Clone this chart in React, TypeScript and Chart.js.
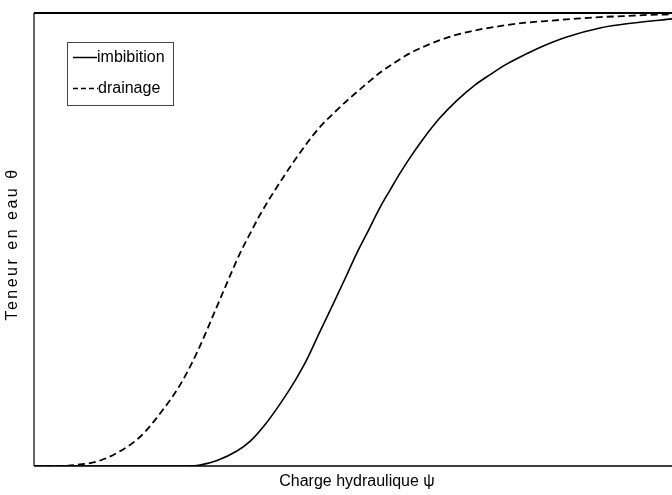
import React, { useEffect, useRef } from "react";
import { Chart, registerables } from "chart.js";

Chart.register(...registerables);

// Data (x: relative hydraulic head 0..100, y: relative water content 0..1)
const imbibitionX = [0, 23.7, 26.0, 28.7, 31.8, 33.9, 36.2, 39.0, 40.9, 42.8, 44.8, 46.9, 48.8, 50.6, 52.2, 54.2, 55.8, 57.4, 59.1, 61.0, 63.6, 66.3, 69.1, 71.5, 73.8, 76.2, 79.3, 83.5, 88.7, 93.9, 100];
const imbibitionY = [0, 0, 0.002, 0.012, 0.033, 0.055, 0.091, 0.146, 0.188, 0.236, 0.296, 0.358, 0.415, 0.470, 0.514, 0.570, 0.609, 0.647, 0.684, 0.722, 0.768, 0.807, 0.841, 0.864, 0.885, 0.903, 0.924, 0.947, 0.967, 0.978, 0.987];
const drainageX = [0, 4.1, 6.4, 9.9, 13.0, 16.6, 20.2, 22.9, 25.6, 28.7, 30.7, 32.3, 33.9, 35.4, 39.0, 42.8, 44.8, 47.2, 49.5, 51.9, 54.2, 56.6, 58.9, 61.3, 63.6, 66.0, 68.3, 70.4, 73.0, 76.7, 80.9, 84.5, 88.7, 92.3, 96.6, 100];
const drainageY = [0, 0, 0.002, 0.010, 0.029, 0.064, 0.124, 0.179, 0.252, 0.353, 0.419, 0.470, 0.514, 0.554, 0.636, 0.713, 0.748, 0.782, 0.812, 0.841, 0.868, 0.891, 0.911, 0.927, 0.940, 0.951, 0.959, 0.965, 0.971, 0.978, 0.983, 0.987, 0.991, 0.993, 0.996, 0.997];
const seriesLabels = ["imbibition", "drainage"];
const xTitle = "Charge hydraulique \u03c8";
const yTitle = "Teneur en eau \u03b8";

const FONT = '16px "Liberation Sans", Arial, sans-serif';

const decorPlugin = {
  id: "decor",
  afterDraw(chart: any) {
    const ctx = chart.ctx as CanvasRenderingContext2D;
    const a = chart.chartArea;
    ctx.save();
    // frame
    ctx.strokeStyle = "#000";
    ctx.lineWidth = 1.8;
    ctx.beginPath();
    ctx.moveTo(a.left, a.top);
    ctx.lineTo(a.right + 2, a.top);
    ctx.stroke();
    ctx.lineWidth = 1.2;
    ctx.beginPath();
    ctx.moveTo(a.left, a.top);
    ctx.lineTo(a.left, a.bottom);
    ctx.stroke();
    ctx.lineWidth = 1.5;
    ctx.beginPath();
    ctx.moveTo(a.left, a.bottom);
    ctx.lineTo(a.right + 2, a.bottom);
    ctx.stroke();

    // legend box
    ctx.strokeStyle = "#444";
    ctx.lineWidth = 1;
    ctx.strokeRect(67.5, 42.5, 106, 63);
    ctx.strokeStyle = "#000";
    ctx.lineWidth = 1.5;
    ctx.beginPath();
    ctx.moveTo(73, 57.5);
    ctx.lineTo(97, 57.5);
    ctx.stroke();
    ctx.setLineDash([5, 3]);
    ctx.beginPath();
    ctx.moveTo(73, 88.5);
    ctx.lineTo(98, 88.5);
    ctx.stroke();
    ctx.setLineDash([]);
    ctx.fillStyle = "#000";
    ctx.font = FONT;
    ctx.textAlign = "left";
    ctx.textBaseline = "middle";
    ctx.fillText(seriesLabels[0], 97, 58);
    ctx.fillText(seriesLabels[1], 98, 89);

    // axis titles
    ctx.textAlign = "center";
    ctx.fillText(xTitle, 357, 482);
    ctx.translate(13, 244);
    ctx.rotate(-Math.PI / 2);
    (ctx as any).letterSpacing = "2.5px";
    ctx.fillText(yTitle, 0, 0);
    ctx.restore();
  },
};

export default function App() {
  const ref = useRef<HTMLCanvasElement | null>(null);
  useEffect(() => {
    if (!ref.current) return;
    const chart = new Chart(ref.current, {
      type: "line",
      data: {
        datasets: [
          {
            label: seriesLabels[0],
            data: imbibitionX.map((x, i) => ({ x, y: imbibitionY[i] })),
            borderColor: "#000",
            borderWidth: 1.6,
            pointRadius: 0,
            cubicInterpolationMode: "monotone",
            fill: false,
          },
          {
            label: seriesLabels[1],
            data: drainageX.map((x, i) => ({ x, y: drainageY[i] })),
            borderColor: "#000",
            borderWidth: 1.8,
            borderDash: [7, 4],
            pointRadius: 0,
            cubicInterpolationMode: "monotone",
            fill: false,
          },
        ],
      },
      options: {
        animation: false,
        responsive: false,
        layout: { padding: { left: 34, top: 13, right: 0, bottom: 29 } },
        scales: {
          x: { type: "linear", min: 0, max: 100, display: false },
          y: { type: "linear", min: 0, max: 1, display: false },
        },
        plugins: { legend: { display: false }, tooltip: { enabled: false } },
      },
      plugins: [decorPlugin],
    });
    return () => chart.destroy();
  }, []);
  return (
    <div style={{ position: "fixed", left: 0, top: 0, width: 672, height: 495, background: "#fff", overflow: "hidden" }}>
      <canvas ref={ref} width={672} height={495} style={{ display: "block" }} />
    </div>
  );
}
